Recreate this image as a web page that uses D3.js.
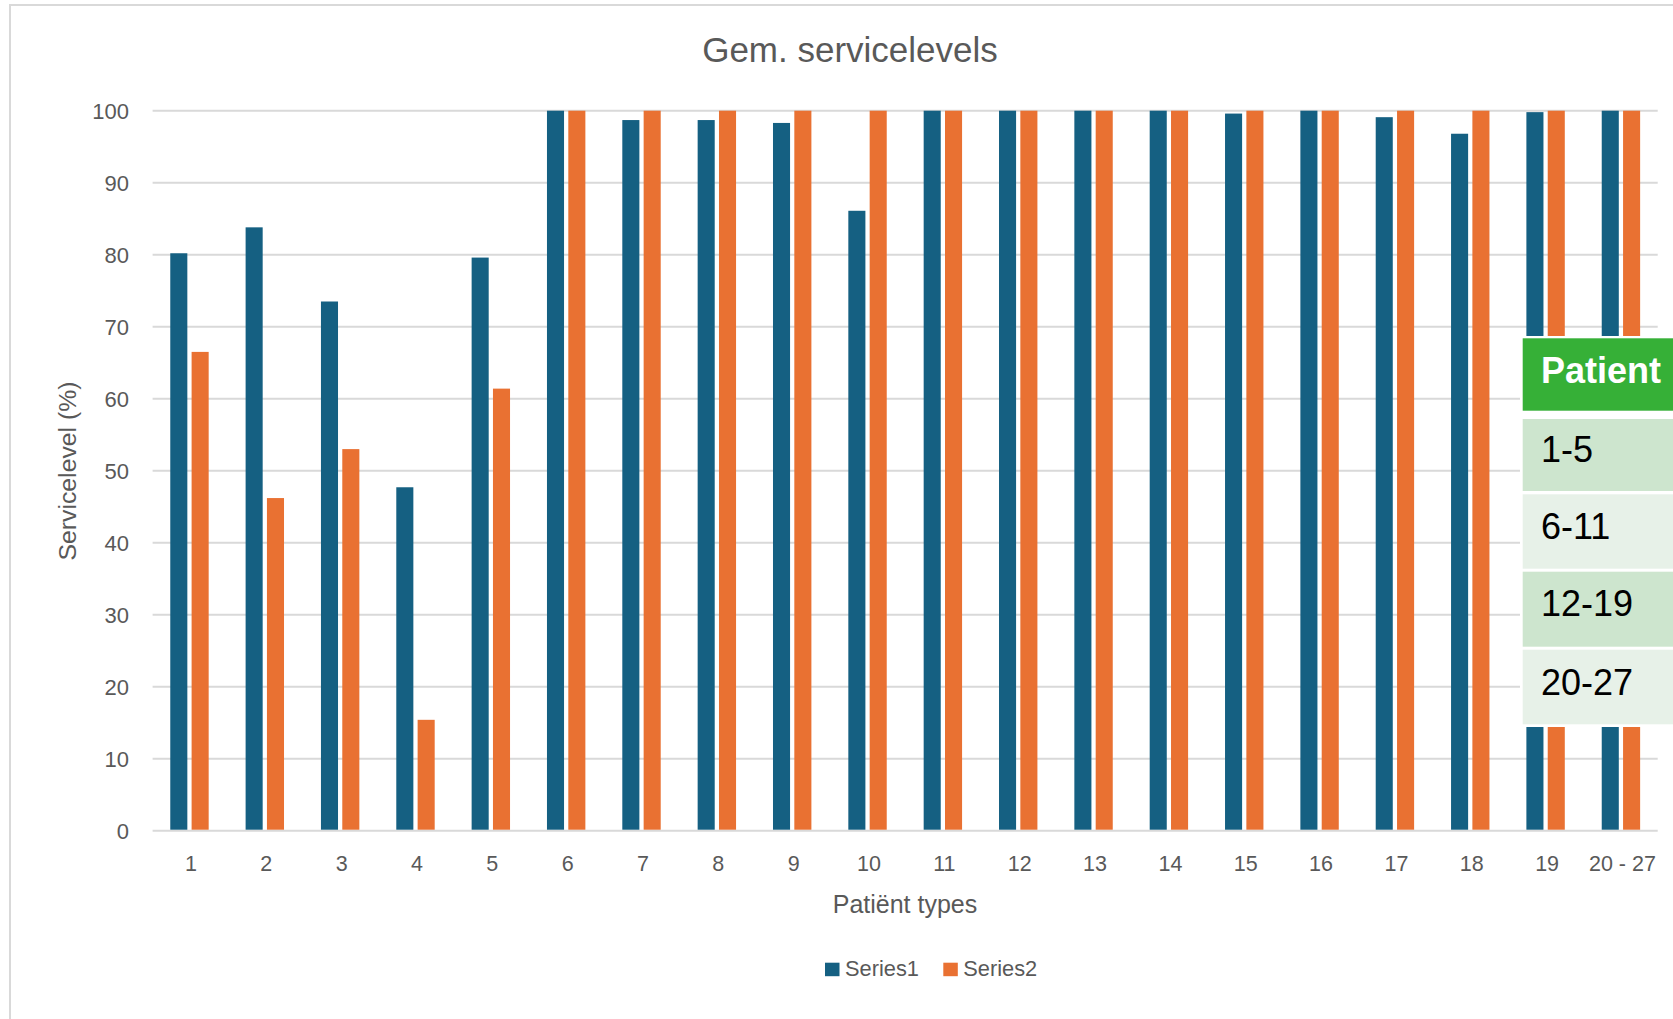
<!DOCTYPE html>
<html>
<head>
<meta charset="utf-8">
<script src="https://cdn.jsdelivr.net/npm/d3@7"></script>
<style>
  html, body { margin: 0; padding: 0; background: #fff; }
  svg { display: block; }
</style>
</head>
<body>
<svg id="chart" width="1673" height="1019"></svg>
<script>
const categories = ["1","2","3","4","5","6","7","8","9","10","11","12","13","14","15","16","17","18","19","20 - 27"];
const seriesNames = ["Series1", "Series2"];
const series1 = [80.2, 83.8, 73.5, 47.7, 79.6, 100, 98.7, 98.7, 98.3, 86.1, 100, 100, 100, 100, 99.6, 100, 99.1, 96.8, 99.8, 100];
const series2 = [66.5, 46.2, 53.0, 15.4, 61.4, 100, 100, 100, 100, 100, 100, 100, 100, 100, 100, 100, 100, 100, 100, 100];
const yTicks = [0, 10, 20, 30, 40, 50, 60, 70, 80, 90, 100];
const titleText = "Gem. servicelevels";
const xTitle = "Patiënt types";
const yTitle = "Servicelevel (%)";
const tableHeader = "Patient";
const tableRows = ["1-5", "6-11", "12-19", "20-27"];

const colors = { Series1: "#156082", Series2: "#E97132" };
const font = "'Liberation Sans', Arial, sans-serif";
const textGray = "#595959";
const gridGray = "#d9d9d9";

const svg = d3.select("#chart");
svg.append("rect").attr("width", 1673).attr("height", 1019).attr("fill", "#fff");

// chart border (cropped on right / bottom)
svg.append("path")
  .attr("d", "M10,1030 L10,5 L1690,5")
  .attr("fill", "none").attr("stroke", gridGray).attr("stroke-width", 2);

const x = d3.scaleBand().domain(categories).range([151.8, 1658.6]);
const y = d3.scaleLinear().domain([0, 100]).range([830.7, 110.7]);
const xInner = d3.scaleBand().domain(seriesNames).range([-19.2, 19.2]).paddingInner(0.2);

// y axis labels
const yAxis = d3.axisLeft(y).tickValues(yTicks).tickSize(0).tickPadding(0).tickFormat(d3.format("d"));
const gy = svg.append("g").attr("transform", "translate(129,0)").call(yAxis);
gy.select(".domain").remove();
gy.selectAll("text").attr("font-family", font).attr("font-size", 22).attr("fill", textGray).attr("dy", "0.35em");

// gridlines
svg.append("g").selectAll("line").data(yTicks).join("line")
  .attr("x1", 152.6).attr("x2", 1657.7)
  .attr("y1", d => y(d)).attr("y2", d => y(d))
  .attr("stroke", gridGray).attr("stroke-width", 2);

// bars
const rows = categories.map((c, i) => ({ cat: c, values: [
  { name: "Series1", value: series1[i] },
  { name: "Series2", value: series2[i] }
]}));

const groups = svg.append("g").selectAll("g").data(rows).join("g")
  .attr("transform", d => `translate(${x(d.cat) + x.bandwidth() / 2},0)`);
groups.selectAll("rect").data(d => d.values).join("rect")
  .attr("x", d => xInner(d.name))
  .attr("width", xInner.bandwidth())
  .attr("y", d => y(d.value))
  .attr("height", d => y(0) - y(d.value) - 1)
  .attr("fill", d => colors[d.name]);

// x axis labels
const xAxis = d3.axisBottom(x).tickSize(0).tickPadding(0);
const gx = svg.append("g").attr("transform", "translate(1.5,863)").call(xAxis);
gx.select(".domain").remove();
gx.selectAll("text").attr("font-family", font).attr("font-size", 21.5).attr("fill", textGray).attr("dy", "0.35em");

// title
svg.append("text").attr("x", 850).attr("y", 62).attr("text-anchor", "middle")
  .attr("font-family", font).attr("font-size", 35).attr("fill", textGray).text(titleText);

// axis titles
svg.append("text").attr("x", 905).attr("y", 913).attr("text-anchor", "middle")
  .attr("font-family", font).attr("font-size", 25).attr("fill", textGray).text(xTitle);
svg.append("text").attr("transform", "translate(67,471) rotate(-90)").attr("text-anchor", "middle")
  .attr("dominant-baseline", "central")
  .attr("font-family", font).attr("font-size", 24.8).attr("fill", textGray).text(yTitle);

// legend
const legendX = [825, 943.3];
const lg = svg.append("g").selectAll("g").data(seriesNames).join("g")
  .attr("transform", (d, i) => `translate(${legendX[i]},962.7)`);
lg.append("rect").attr("width", 14.5).attr("height", 13.5).attr("fill", d => colors[d]);
lg.append("text").attr("x", 20).attr("y", 13.5)
  .attr("font-family", font).attr("font-size", 21.8).attr("fill", textGray).text(d => d);

// overlay table
const tbl = svg.append("g");
tbl.append("rect").attr("x", 1520).attr("y", 336).attr("width", 160).attr("height", 391).attr("fill", "#fff");
tbl.append("rect").attr("x", 1522.7).attr("y", 338.3).attr("width", 160).attr("height", 72.4).attr("fill", "#36B037");
tbl.append("text").attr("x", 1541).attr("y", 382.7)
  .attr("font-family", font).attr("font-weight", "bold")
  .attr("font-size", 36).attr("fill", "#fff").text(tableHeader);
const rowTops = [419, 494.3, 571.7, 649.7];
const rowBottoms = [491, 568.7, 646.7, 724.3];
const rowFill = ["#CDE5CE", "#E7F1E8", "#CDE5CE", "#E7F1E8"];
const rowBase = [461.7, 539.3, 616, 695];
const tr = tbl.selectAll("g.row").data(tableRows).join("g").attr("class", "row");
tr.append("rect").attr("x", 1522.7).attr("y", (d, i) => rowTops[i]).attr("width", 160)
  .attr("height", (d, i) => rowBottoms[i] - rowTops[i]).attr("fill", (d, i) => rowFill[i]);
tr.append("text").attr("x", 1541).attr("y", (d, i) => rowBase[i])
  .attr("font-family", font).attr("font-size", 36)
  .attr("fill", "#000").text(d => d);
</script>
</body>
</html>
